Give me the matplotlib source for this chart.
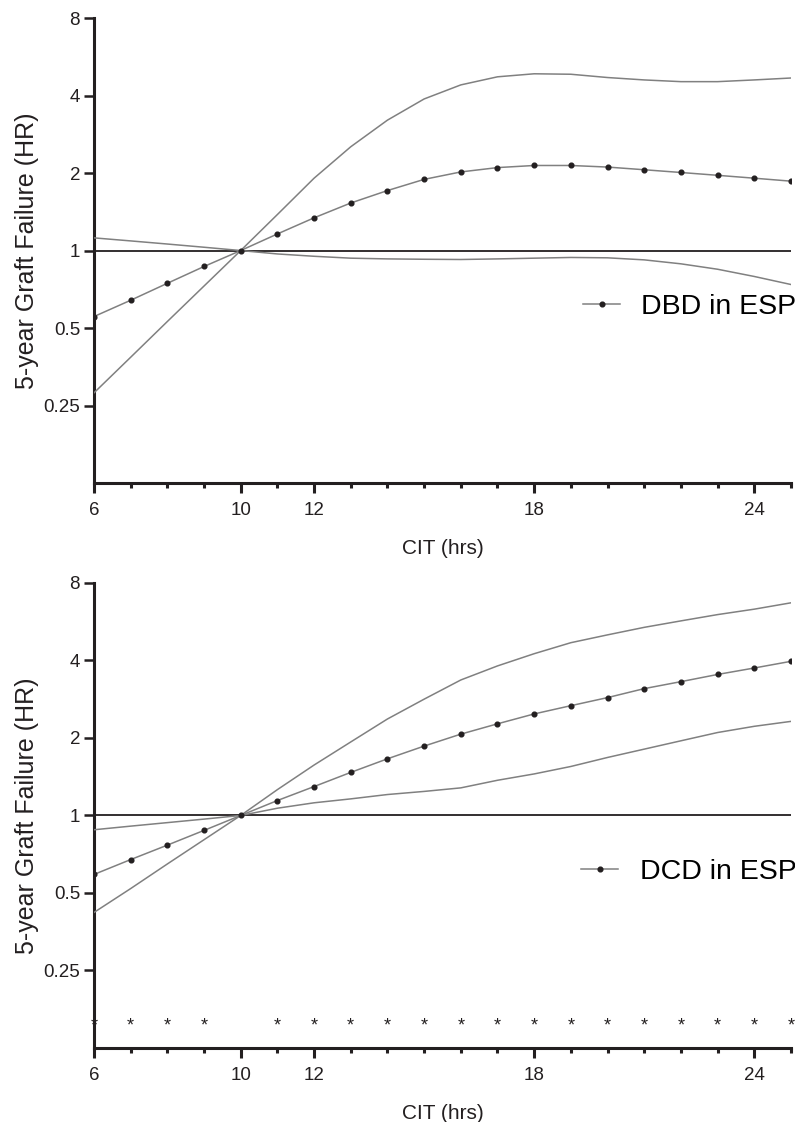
"""Two-panel CIT vs 5-year graft failure hazard ratio (DBD / DCD in ESP)."""
import matplotlib

matplotlib.use("Agg")

import matplotlib.pyplot as plt  # noqa: E402
from matplotlib.lines import Line2D  # noqa: E402

plt.rcParams["font.family"] = ["Liberation Sans", "DejaVu Sans"]

# Cold ischaemia time (hours), one point per hour
hours = list(range(6, 26))

dbd_hr = [0.554, 0.641, 0.746, 0.867, 1.0, 1.16, 1.34, 1.53, 1.71, 1.89,
          2.02, 2.10, 2.14, 2.14, 2.11, 2.06, 2.01, 1.96, 1.91, 1.86]
dbd_upper = [0.28, 0.385, 0.53, 0.728, 1.0, 1.38, 1.91, 2.53, 3.21, 3.88,
             4.4, 4.73, 4.86, 4.84, 4.7, 4.6, 4.53, 4.53, 4.6, 4.68]
dbd_lower = [1.12, 1.09, 1.06, 1.03, 1.0, 0.97, 0.95, 0.934, 0.928, 0.925,
             0.923, 0.928, 0.934, 0.94, 0.937, 0.92, 0.888, 0.846, 0.793, 0.738]

dcd_hr = [0.59, 0.674, 0.767, 0.875, 1.0, 1.143, 1.295, 1.47, 1.66, 1.86,
          2.07, 2.27, 2.48, 2.67, 2.87, 3.11, 3.31, 3.53, 3.74, 3.97]
dcd_upper = [0.42, 0.52, 0.648, 0.805, 1.0, 1.26, 1.57, 1.93, 2.37, 2.83,
             3.36, 3.81, 4.25, 4.69, 5.03, 5.38, 5.7, 6.03, 6.33, 6.7]
dcd_lower = [0.88, 0.909, 0.938, 0.968, 1.0, 1.067, 1.12, 1.16, 1.206, 1.24,
             1.28, 1.37, 1.45, 1.55, 1.68, 1.81, 1.95, 2.1, 2.22, 2.32]

# hours marked significant (*) in the DCD panel
dcd_sig_hours = [6, 7, 8, 9, 11, 12, 13, 14, 15, 16, 17, 18, 19, 20,
                 21, 22, 23, 24, 25]
SIG_Y = 0.152

y_ticks = [0.25, 0.5, 1, 2, 4, 8]
y_tick_labels = ["0.25", "0.5", "1", "2", "4", "8"]
x_major = [6, 10, 12, 18, 24]

GREY = "#808080"
INK = "#231f20"


def draw_panel(ax, hr, upper, lower, label):
    ax.axhline(1, color=INK, lw=1.3, zorder=2)
    ax.plot(hours, upper, color=GREY, lw=1.1, zorder=3)
    ax.plot(hours, lower, color=GREY, lw=1.1, zorder=3)
    ax.plot(hours, hr, color=GREY, lw=1.1, marker="o", markersize=3.4,
            markerfacecolor=INK, markeredgecolor=INK, zorder=4)

    ax.set_yscale("log", base=2)
    ax.set_ylim(0.125, 8)
    ax.set_xlim(6, 25)
    ax.set_yticks(y_ticks)
    ax.set_yticklabels(y_tick_labels)
    ax.minorticks_off()
    ax.set_xticks(x_major)
    ax.set_xticks([h for h in hours if h not in x_major], minor=True)

    for side in ("top", "right"):
        ax.spines[side].set_visible(False)
    for side in ("left", "bottom"):
        ax.spines[side].set_linewidth(2.2)
        ax.spines[side].set_color(INK)

    ax.tick_params(axis="y", which="major", length=7, width=1.8, pad=3,
                   labelsize=13.5, colors=INK)
    ax.tick_params(axis="x", which="major", length=7, width=2.2, pad=7,
                   labelsize=13.5, colors=INK)
    ax.tick_params(axis="x", which="minor", length=3.5, width=2.2,
                   colors=INK)

    ax.set_xlabel("CIT (hrs)", fontsize=15, color=INK, labelpad=14)
    ax.set_ylabel("5-year Graft Failure (HR)", fontsize=18, color=INK,
                  labelpad=3)

    handle = Line2D([], [], color=GREY, lw=1.1, marker="o", markersize=3.4,
                    markerfacecolor=INK, markeredgecolor=INK)
    ax.legend([handle], [label], loc="center right",
              bbox_to_anchor=(1.008, 0.378), frameon=False, fontsize=20.5,
              handlelength=1.3, handletextpad=0.75, borderpad=0,
              borderaxespad=0)


fig = plt.figure(figsize=(7.95, 11.22), dpi=100)
ax_top = fig.add_axes([0.1182, 0.5695, 0.8767, 0.4144])
ax_bot = fig.add_axes([0.1182, 0.0660, 0.8767, 0.4144])

draw_panel(ax_top, dbd_hr, dbd_upper, dbd_lower, "DBD in ESP")
draw_panel(ax_bot, dcd_hr, dcd_upper, dcd_lower, "DCD in ESP")

for h in dcd_sig_hours:
    ax_bot.text(h, SIG_Y, "*", ha="center", va="center", fontsize=13,
                color=INK, clip_on=False)

fig.savefig("out.png", dpi=100)
plt.close(fig)
